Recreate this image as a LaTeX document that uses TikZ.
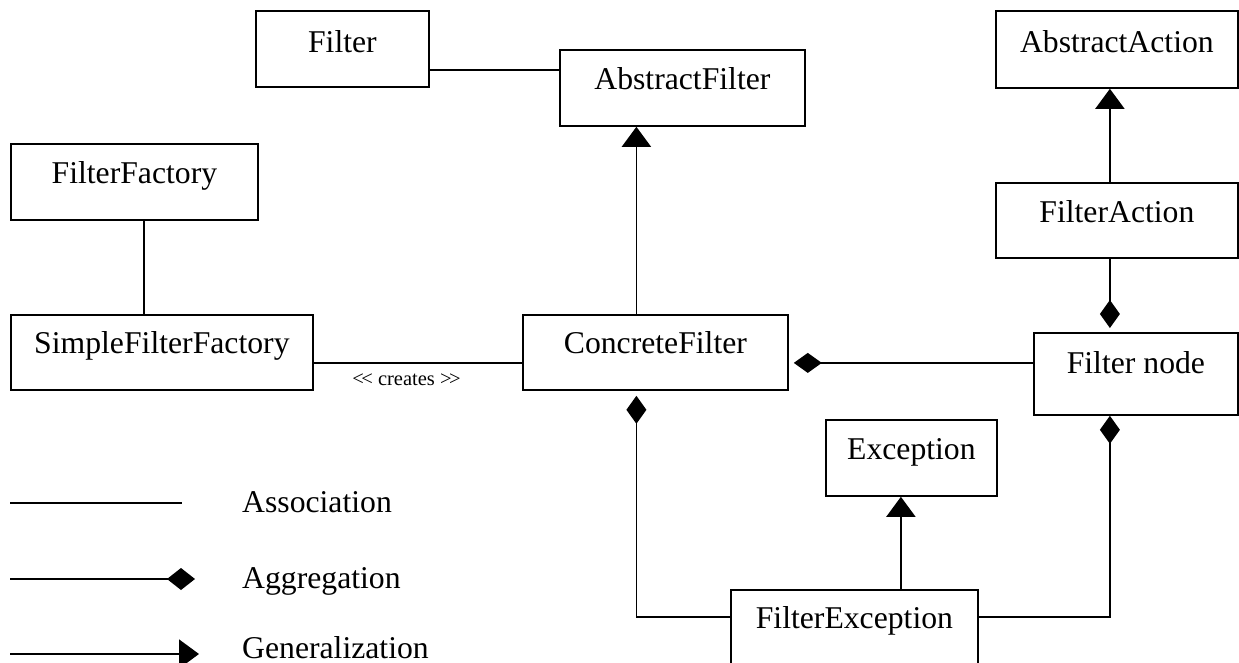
\documentclass[tikz,border=0pt]{standalone}
\usepackage{fontspec}
\setmainfont{Liberation Serif}
\usetikzlibrary{arrows.meta}
\begin{document}
\begin{tikzpicture}[x=1pt,y=-1pt,
  cls/.style={draw, line width=1.8pt, rectangle, inner sep=0pt, anchor=north west,
    font=\fontsize{31.7}{38}\selectfont, text height=40pt, text depth=36pt},
  conn/.style={line width=1.8pt},
  gen/.style={conn, -{Triangle[length=20pt,width=29pt]}},
  agg/.style={conn, -{Diamond[length=28pt,width=20pt]}},
  lbl/.style={font=\fontsize{31.7}{38}\selectfont, inner sep=0pt, anchor=base west},
]
\useasboundingbox (0,0) rectangle (1239,663);
\clip (0,0) rectangle (1239,663);

% classes
\node[cls, minimum width=173pt, text height=42pt, text depth=34pt] (filter) at (255,10) {Filter};
\node[cls, minimum width=245pt] (afilter) at (559,49) {AbstractFilter};
\node[cls, minimum width=242pt, text height=42pt, text depth=35pt] (aaction) at (995,10) {AbstractAction};
\node[cls, minimum width=247pt] (ffactory) at (10,143) {FilterFactory};
\node[cls, minimum width=242pt, text depth=35pt] (faction) at (995,182) {FilterAction};
\node[cls, minimum width=302pt, text height=39pt, text depth=36pt] (sff) at (10,314) {SimpleFilterFactory};
\node[cls, minimum width=265pt, text height=39pt, text depth=36pt] (cf) at (522,314) {ConcreteFilter};
\node[cls, minimum width=204pt, text height=41pt, text depth=41pt] (fnode) at (1033,332) {Filter node};
\node[cls, minimum width=171pt] (exc) at (825,419) {Exception};
\node[cls, minimum width=247pt, text height=39pt, text depth=100pt] (fexc) at (730,589) {FilterException};

% connectors
\coordinate (c1) at ([yshift=18pt]filter.south east);
\draw[conn] (c1) -- (c1 -| afilter.west);

\coordinate (c2) at ([xshift=-19pt]cf.north);
\draw[gen] (c2) -- (c2 |- afilter.south);

\coordinate (c3) at ([xshift=9.5pt]ffactory.south);
\draw[conn] (c3) -- (c3 |- sff.north);

\coordinate (c4) at ([yshift=-10.5pt]sff.east);
\draw[conn] (c4) -- (c4 -| cf.west);
\node[font=\fontsize{20.5}{24}\selectfont, inner sep=0pt, anchor=base] (creates) at (406.5,385)
  {{<}\kern-2.5pt{<} creates {>}\kern-2.5pt{>}};

\coordinate (c5) at ([yshift=-10.5pt]cf.east);
\draw[agg, shorten >=5pt] (c5 -| fnode.west) -- (c5);

\coordinate (c6) at ([xshift=-7pt]faction.south);
\draw[agg, shorten >=4pt] (c6) -- (c6 |- fnode.north);

\coordinate (c7) at ([xshift=-7pt]faction.north);
\draw[gen] (c7) -- (c7 |- aaction.south);

\coordinate (c8) at ([yshift=-28pt]fexc.north west);
\draw[agg, shorten >=5pt] (c8) -| (c2 |- cf.south);

\coordinate (c9) at ([yshift=-28pt]fexc.north east);
\draw[agg] (c9) -| (c6 |- fnode.south);

\coordinate (c10) at ([xshift=46.5pt]fexc.north);
\draw[gen] (c10) -- (c10 |- exc.south);

% legend
\coordinate (l1a) at (10,503); \coordinate (l1b) at (182,503);
\draw[conn] (l1a) -- (l1b);
\coordinate (l2a) at (10,579); \coordinate (l2b) at (195,579);
\draw[conn, -{Diamond[length=28pt,width=22pt]}] (l2a) -- (l2b);
\coordinate (l3a) at (10,654); \coordinate (l3b) at (199,654);
\draw[gen] (l3a) -- (l3b);
\node[lbl] (t1) at (242,512) {Association};
\node[lbl] (t2) at (242,588) {Aggregation};
\node[lbl] (t3) at (242,658) {Generalization};
\end{tikzpicture}
\end{document}
